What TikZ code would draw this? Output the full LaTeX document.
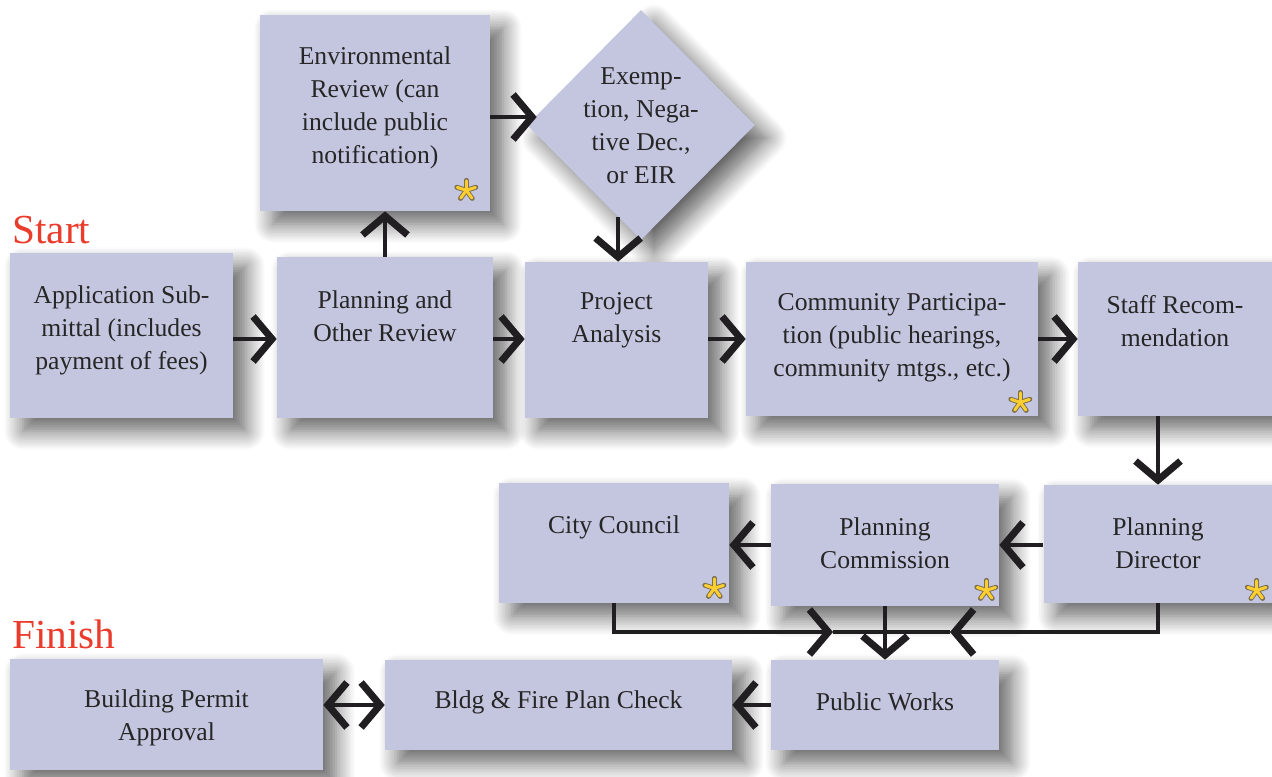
\documentclass[tikz,border=0pt]{standalone}
\usepackage{fontspec}
\setmainfont{Liberation Serif}
\usetikzlibrary{shapes.geometric,arrows.meta,shadows.blur,calc}

\definecolor{boxfill}{RGB}{196,198,224}
\definecolor{txtcol}{RGB}{38,38,38}
\definecolor{startred}{RGB}{234,60,44}
\definecolor{starfill}{RGB}{252,206,48}
\definecolor{starline}{RGB}{125,112,78}
\definecolor{arrcol}{RGB}{32,30,32}

\tikzset{
	box/.style={fill=boxfill, inner sep=0pt,
		blur shadow={shadow xshift=0.26cm, shadow yshift=-0.26cm,
			shadow blur radius=0.38cm, shadow blur steps=12, shadow opacity=62}},
	txt/.style={font=\fontsize{14.6}{18.8}\selectfont, text=txtcol, align=center, inner sep=0pt},
	heading/.style={font=\fontsize{23.5}{28}\selectfont, text=startred, anchor=base west, inner sep=0pt},
	arr/.style={draw=arrcol, line width=2.2pt},
	asterisk/.pic={
		\foreach \a in {18,90,162,234,306}
			\draw[starline, line width=2.8pt, line cap=round] (0,0) -- (\a:0.2cm);
		\foreach \a in {18,90,162,234,306}
			\draw[starfill, line width=1.7pt, line cap=round] (0,0) -- (\a:0.19cm);
	}
}

\begin{document}
\begin{tikzpicture}[x=0.02cm, y=-0.02cm,
	>={Straight Barb[length=0.38cm, width=0.9cm, line width=4pt]}]
	\useasboundingbox (0,0) rectangle (1272,777);

	% Headings
	\node[heading] (start) at (12,243) {Start};
	\node[heading] (finish) at (12,648) {Finish};

	% Top row
	\node[box, minimum width=4.46cm, minimum height=3.3cm] (app) at (121.5,335.5) {};
	\node[txt] (app-t) at (121.5,330) {Application Sub-\\mittal (includes\\payment of fees)};
	\node[box, minimum width=4.32cm, minimum height=3.22cm] (plan) at (385,337.5) {};
	\node[txt] (plan-t) at (385,316) {Planning and\\Other Review};
	\node[box, minimum width=4.6cm, minimum height=3.92cm] (env) at (375,113) {};
	\node[txt] (env-t) at (375,108) {Environmental\\Review (can\\include public\\notification)};
	\node[box, diamond, minimum width=4.56cm, minimum height=4.6cm] (dia) at (641,125) {};
	\node[txt] (dia-t) at (641,126) {Exemp-\\tion, Nega-\\tive Dec.,\\or EIR};
	\node[box, minimum width=3.66cm, minimum height=3.12cm] (proj) at (616.5,340) {};
	\node[txt] (proj-t) at (616.5,320) {Project\\Analysis};
	\node[box, minimum width=5.84cm, minimum height=3.08cm] (comm) at (892,339) {};
	\node[txt] (comm-t) at (892,338) {Community Participa-\\tion (public hearings,\\community mtgs., etc.)};
	\node[box, minimum width=3.88cm, minimum height=3.08cm] (staff) at (1175,339) {};
	\node[txt] (staff-t) at (1175,321) {Staff Recom-\\mendation};

	% Middle row
	\node[box, minimum width=4.58cm, minimum height=2.36cm] (pd) at (1158,544) {};
	\node[txt] (pd-t) at (1158,543) {Planning\\Director};
	\node[box, minimum width=4.56cm, minimum height=2.44cm] (pc) at (885,545) {};
	\node[txt] (pc-t) at (885,543) {Planning\\Commission};
	\node[box, minimum width=4.6cm, minimum height=2.4cm] (cc) at (614,543) {};
	\node[txt] (cc-t) at (614,527) {City Council};

	% Bottom row
	\node[box, minimum width=4.56cm, minimum height=1.8cm] (pw) at (885,705) {};
	\node[txt] (pw-t) at (885,702) {Public Works};
	\node[box, minimum width=6.94cm, minimum height=1.8cm] (bldg) at (558.5,705) {};
	\node[txt] (bldg-t) at (558.5,702) {Bldg \& Fire Plan Check};
	\node[box, minimum width=6.26cm, minimum height=2.22cm] (bpa) at (166.5,714.5) {};
	\node[txt] (bpa-t) at (166.5,718) {Building Permit\\Approval};

	% Public notice marks
	\pic at ([shift={(-24,-21)}]env.south east) {asterisk};
	\pic at ([shift={(-18,-14)}]comm.south east) {asterisk};
	\pic at ([shift={(-15,-15)}]cc.south east) {asterisk};
	\pic at ([shift={(-13,-16)}]pc.south east) {asterisk};
	\pic at ([shift={(-16,-13)}]pd.south east) {asterisk};

	% Rows the arrows run along
	\coordinate (row0) at (0,117);
	\coordinate (row1) at (0,339);
	\coordinate (row2) at (0,545);
	\coordinate (row3) at (0,705);
	\coordinate (dx) at ($(dia.south)!0.2!(dia.west)$);
	\coordinate (jl) at (833,632);
	\coordinate (jr) at (950,632);

	% Arrows
	\draw[arr,->] (app.east |- row1) -- (plan.west |- row1);
	\draw[arr,->] (plan.north) -- (plan.north |- env.south);
	\draw[arr,->, shorten >=-0.2cm] (env.east |- row0) -- (dia.west |- row0);
	\draw[arr,->] (dx) -- (dx |- proj.north);
	\draw[arr,->] (plan.east |- row1) -- (proj.west |- row1);
	\draw[arr,->] (proj.east |- row1) -- (comm.west |- row1);
	\draw[arr,->] (comm.east |- row1) -- (staff.west |- row1);
	\draw[arr,->] (staff.south -| pd.north) -- (pd.north);
	\draw[arr,->] (pd.west |- row2) -- (pc.east |- row2);
	\draw[arr,->] (pc.west |- row2) -- (cc.east |- row2);

	% Junction into Public Works
	\draw[arr,->] (cc.south) |- (jl);
	\draw[arr,->] (pd.south) |- (jr);
	\draw[arr] (jl) -- (jr);
	\draw[arr,->] (pc.south) -- (pw.north);

	\draw[arr,->] (pw.west |- row3) -- (bldg.east |- row3);
	\draw[arr,<->, line width=2pt] (bldg.west |- row3) -- (bpa.east |- row3);

\end{tikzpicture}
\end{document}
